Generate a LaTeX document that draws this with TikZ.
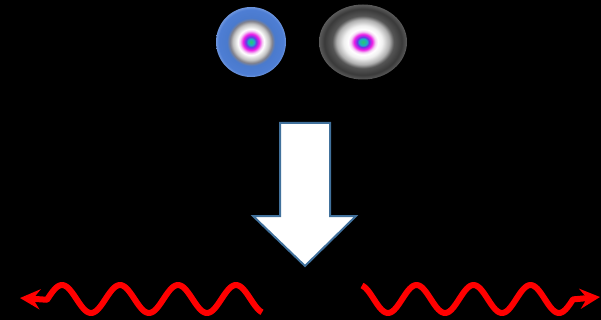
\documentclass[tikz,border=0pt]{standalone}
\usetikzlibrary{arrows.meta,shapes.geometric}

% Blue droplet: coloured core, white halo, grey ring, blue body
\pgfdeclareradialshading{bluedrop}{\pgfpoint{0bp}{0bp}}{%
  color(0bp)=(rgb,255:red,40;green,200;blue,110);
  color(2.2bp)=(rgb,255:red,30;green,170;blue,200);
  color(3.8bp)=(rgb,255:red,110;green,50;blue,230);
  color(5.7bp)=(rgb,255:red,235;green,30;blue,230);
  color(7.9bp)=(rgb,255:red,245;green,200;blue,245);
  color(9.3bp)=(rgb,255:red,255;green,255;blue,255);
  color(12.9bp)=(rgb,255:red,195;green,195;blue,195);
  color(15bp)=(rgb,255:red,130;green,130;blue,140);
  color(17.1bp)=(rgb,255:red,74;green,122;blue,205);
  color(23.2bp)=(rgb,255:red,78;green,126;blue,212);
  color(25bp)=(rgb,255:red,110;green,150;blue,222);
  color(50bp)=(rgb,255:red,110;green,150;blue,222)}

% Dark droplet: same core, wide white halo, dark grey body
\pgfdeclareradialshading{greydrop}{\pgfpoint{0bp}{0bp}}{%
  color(0bp)=(rgb,255:red,40;green,200;blue,110);
  color(2.3bp)=(rgb,255:red,30;green,170;blue,200);
  color(3.4bp)=(rgb,255:red,110;green,50;blue,230);
  color(5.1bp)=(rgb,255:red,235;green,30;blue,230);
  color(7bp)=(rgb,255:red,245;green,210;blue,245);
  color(8.5bp)=(rgb,255:red,255;green,255;blue,255);
  color(11bp)=(rgb,255:red,240;green,240;blue,240);
  color(15bp)=(rgb,255:red,175;green,175;blue,175);
  color(17.5bp)=(rgb,255:red,85;green,85;blue,85);
  color(22bp)=(rgb,255:red,58;green,58;blue,58);
  color(25bp)=(rgb,255:red,90;green,90;blue,90);
  color(50bp)=(rgb,255:red,90;green,90;blue,90)}

\definecolor{arrowedge}{RGB}{65,113,156}
\definecolor{wavered}{RGB}{255,0,0}

\tikzset{
  drop/.style={inner sep=0pt, outer sep=0pt, draw=none},
  bigarrow/.style={fill=white, draw=arrowedge, line width=2pt, line join=miter},
  wave/.style={draw=wavered, line width=6pt, line join=round,
    -{Stealth[length=20pt 0, width=20pt 0, inset=7pt 0]}}
}

\begin{document}
\begin{tikzpicture}[x=1pt, y=-1pt]
  % canvas
  \fill[black] (0,0) rectangle (601,320);
  \useasboundingbox (0,0) rectangle (601,320);

  % two droplets
  \node[drop, circle, minimum size=70pt, shading=bluedrop] (dropA) at (251,42) {};
  \node[drop, ellipse, minimum width=88pt, minimum height=75pt, shading=greydrop] (dropB) at (363,42) {};

  % big downward arrow
  \draw[bigarrow] (280,123) -- (330,123) -- (330,216) -- (356,216)
    -- (305,266) -- (253,216) -- (280,216) -- cycle;

  % outgoing waves
  \coordinate (leftEnd) at (20,298);
  \coordinate (rightEnd) at (600,297);
  \draw[wave] plot[domain=262:47, samples=120, smooth]
      (\x, {299-14*cos(360/58*(\x-236))}) -- (leftEnd);
  \draw[wave] plot[domain=362:573, samples=120, smooth]
      (\x, {299+14*cos(360/57*(\x-388))}) -- (rightEnd);
\end{tikzpicture}
\end{document}
